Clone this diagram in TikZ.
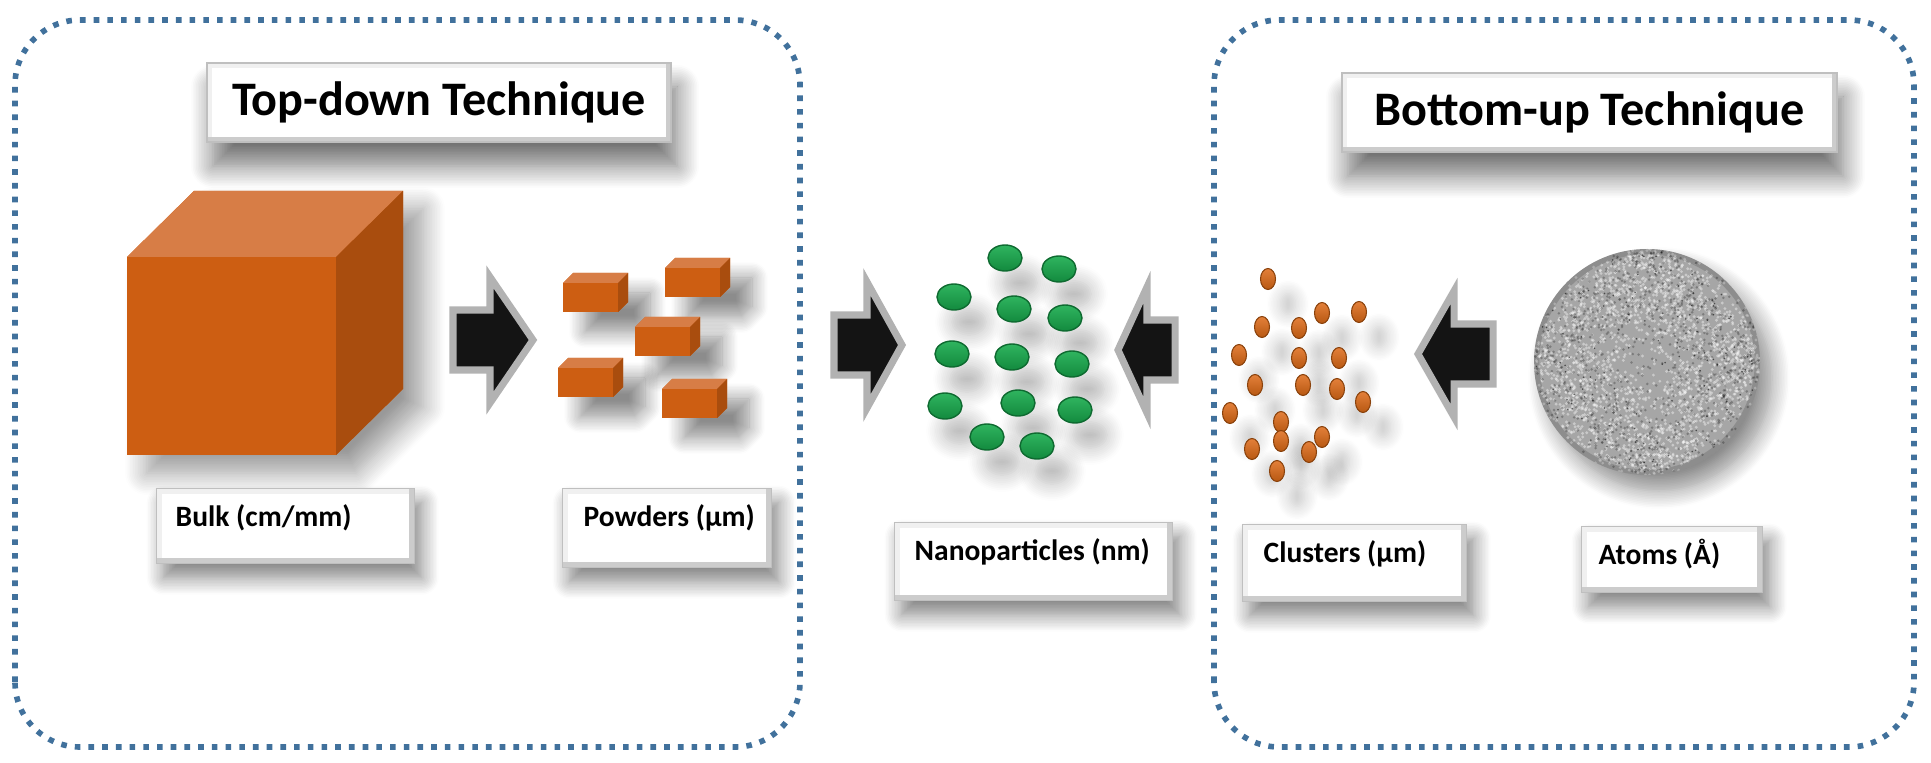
\documentclass[tikz,border=0pt]{standalone}
\usepackage{fontspec}
\setmainfont{Carlito}
\usepackage{tikz}
\usetikzlibrary{shadows.blur}

\definecolor{dotblue}{HTML}{41719C}
\definecolor{bulkfront}{HTML}{CD5E12}
\definecolor{bulktop}{HTML}{D77D46}
\definecolor{bulkside}{HTML}{A94D0E}
\definecolor{nanolight}{HTML}{2FB45F}
\definecolor{nanodark}{HTML}{138A3E}
\definecolor{nanoedge}{HTML}{0E6A30}
\definecolor{clulight}{HTML}{E3803A}
\definecolor{cludark}{HTML}{B85812}
\definecolor{cluedge}{HTML}{8A420C}

\tikzset{
  dotbox/.style={dotblue, line width=1.6pt, dash pattern=on 1.6pt off 2.3pt, rounded corners=0.65cm},
  bevelframe/.style={path picture={
      \draw[gray!12, line width=3pt] (path picture bounding box.south west) -- (path picture bounding box.north west) -- (path picture bounding box.north east);
      \draw[gray!40, line width=3pt] (path picture bounding box.north east) -- (path picture bounding box.south east) -- (path picture bounding box.south west);}},
  titlebox/.style={rectangle, fill=white, draw=gray!50, line width=0.4pt, bevelframe, inner sep=0pt,
    font=\fontsize{13.7}{16}\selectfont\bfseries,
    blur shadow={shadow xshift=0.06cm, shadow yshift=-0.24cm, shadow blur radius=0.22cm, shadow blur steps=14, shadow opacity=55}},
  labelbox/.style={rectangle, anchor=north west, fill=white, draw=gray!50, line width=0.4pt, bevelframe, inner sep=0pt,
    blur shadow={shadow xshift=0.07cm, shadow yshift=-0.14cm, shadow blur radius=0.17cm, shadow blur steps=12, shadow opacity=50}},
  labeltext/.style={anchor=base west, inner sep=0pt, font=\fontsize{8.4}{10}\selectfont\bfseries},
  arrowbody/.style={fill=black!92, draw=gray!60, line width=2pt, line join=miter},
  cubeshadow/.style={blur shadow={shadow xshift=0.22cm, shadow yshift=-0.2cm, shadow blur radius=0.16cm, shadow blur steps=12, shadow opacity=45}},
  nanoball/.style={top color=nanolight, bottom color=nanodark, draw=nanoedge, line width=0.4pt,
    blur shadow={shadow xshift=0.15cm, shadow yshift=-0.25cm, shadow blur radius=0.17cm, shadow blur steps=10, shadow opacity=28}},
  cluball/.style={top color=clulight, bottom color=cludark, draw=cluedge, line width=0.3pt,
    blur shadow={shadow xshift=0.2cm, shadow yshift=-0.25cm, shadow blur radius=0.14cm, shadow blur steps=10, shadow opacity=22}}
}

\newcommand{\blockarrow}[4]{%
  \filldraw[arrowbody] (#1,#4+0.30) -- (#2,#4+0.30) -- (#2,#4+0.63) -- (#3,#4) -- (#2,#4-0.63) -- (#2,#4-0.30) -- (#1,#4-0.30) -- cycle;}

\newcommand{\powdercube}[2]{%
  \fill[bulkfront, cubeshadow] (#1,#2) -- ++(0.55,0) -- ++(0.10,0.10) -- ++(0,0.29) -- ++(-0.55,0) -- ++(-0.10,-0.10) -- cycle;
  \fill[bulktop] (#1,#2+0.29) -- ++(0.55,0) -- ++(0.10,0.10) -- ++(-0.55,0) -- cycle;
  \fill[bulkside] (#1+0.55,#2) -- ++(0.10,0.10) -- ++(0,0.29) -- ++(-0.10,-0.10) -- cycle;}

\begin{document}
\begin{tikzpicture}
\useasboundingbox (0,0) rectangle (19.31,7.62);

\draw[dotbox] (0.15,0.15) rectangle (8.00,7.42);
\draw[dotbox] (12.14,0.15) rectangle (19.14,7.42);

\node (topdown) [titlebox, minimum width=4.64cm, minimum height=0.79cm] at (4.39,6.595) {Top-down Technique};
\node (bottomup) [titlebox, minimum width=4.95cm, minimum height=0.79cm] at (15.895,6.495) {Bottom-up Technique};

% bulk cube
\fill[bulkfront, blur shadow={shadow xshift=0.2cm, shadow yshift=-0.18cm, shadow blur radius=0.22cm, shadow blur steps=14, shadow opacity=40}]
  (1.27,3.07) -- (3.36,3.07) -- (4.03,3.73) -- (4.03,5.71) -- (1.94,5.71) -- (1.27,5.05) -- cycle;
\fill[bulktop] (1.27,5.05) -- (3.36,5.05) -- (4.03,5.71) -- (1.94,5.71) -- cycle;
\fill[bulkside] (3.36,3.07) -- (4.03,3.73) -- (4.03,5.71) -- (3.36,5.05) -- cycle;

% powders
\foreach \x/\y in {5.63/4.50, 6.65/4.65, 6.35/4.06, 5.58/3.65, 6.62/3.44}
  \powdercube{\x}{\y};

% nanoparticles
\foreach \x/\y in {10.05/5.04, 10.59/4.93, 9.54/4.65, 10.14/4.53, 10.65/4.44, 9.52/4.08, 10.12/4.05,
    10.72/3.98, 9.45/3.56, 10.18/3.59, 10.75/3.52, 9.87/3.25, 10.37/3.16}
  \shadedraw[nanoball] (\x,\y) ellipse [x radius=0.17, y radius=0.13];

% clusters
\foreach \x/\y in {12.68/4.83, 13.22/4.49, 13.59/4.50, 12.62/4.35, 12.99/4.34, 12.39/4.07, 12.99/4.04,
    13.39/4.04, 12.55/3.77, 13.03/3.77, 13.37/3.73, 13.63/3.60, 12.30/3.49, 12.81/3.40, 12.81/3.21,
    13.22/3.25, 12.52/3.13, 13.09/3.10, 12.77/2.91}
  \shadedraw[cluball] (\x,\y) ellipse [x radius=0.075, y radius=0.105];

% atoms
\fill[gray!70, blur shadow={shadow xshift=0.12cm, shadow yshift=-0.16cm, shadow blur radius=0.18cm, shadow blur steps=12, shadow opacity=45}]
  (16.47,4.00) circle (1.13);
\begin{scope}[shift={(16.47,4.00)}]
  \clip (0,0) circle (1.13);
  \pgfmathsetseed{11}
  \foreach \i in {1,...,2200}
    \fill[white, opacity=0.4] ({360*rnd}:{1.14*sqrt(rnd)}) circle (0.016);
  \foreach \i in {1,...,900}
    \fill[black, opacity=0.25] ({360*rnd}:{1.14*sqrt(rnd)}) circle (0.014);
  \foreach \i in {1,...,150}
    \fill[black, opacity=0.55] ({360*rnd}:{1.14*sqrt(rnd)}) circle (0.009);
  \draw[black, opacity=0.15, line width=3pt] (0,0) circle (1.13);
\end{scope}

% arrows
\blockarrow{4.53}{4.90}{5.33}{4.22}
\blockarrow{8.34}{8.67}{9.02}{4.17}
\blockarrow{11.75}{11.47}{11.18}{4.12}
\blockarrow{14.93}{14.54}{14.18}{4.08}

% labels
\node (bulk) [labelbox, minimum width=2.58cm, minimum height=0.75cm] at (1.56,2.74) {};
\node (bulktext) [labeltext] at ([shift={(0.19,-0.39)}]bulk.north west) {Bulk (cm/mm)};
\node (powders) [labelbox, minimum width=2.09cm, minimum height=0.79cm] at (5.62,2.74) {};
\node (powderstext) [labeltext] at ([shift={(0.21,-0.39)}]powders.north west) {Powders (µm)};
\node (nano) [labelbox, minimum width=2.78cm, minimum height=0.78cm] at (8.94,2.40) {};
\node (nanotext) [labeltext] at ([shift={(0.20,-0.39)}]nano.north west) {Nanoparticles (nm)};
\node (clusters) [labelbox, minimum width=2.24cm, minimum height=0.77cm] at (12.42,2.38) {};
\node (clusterstext) [labeltext] at ([shift={(0.21,-0.39)}]clusters.north west) {Clusters (µm)};
\node (atoms) [labelbox, minimum width=1.81cm, minimum height=0.66cm] at (15.81,2.36) {};
\node (atomstext) [labeltext] at ([shift={(0.17,-0.39)}]atoms.north west) {Atoms (Å)};
\end{tikzpicture}
\end{document}
